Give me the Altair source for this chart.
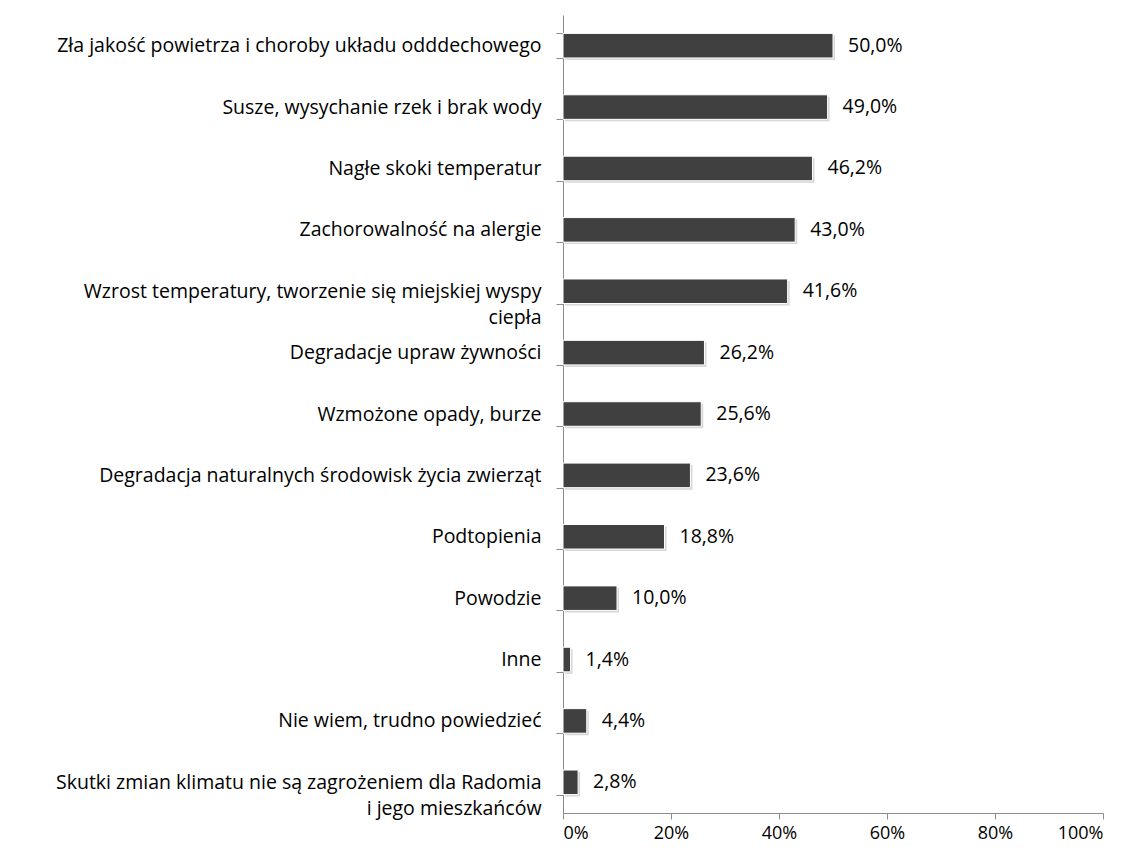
import altair as alt
import pandas as pd

categories = [
    "Zła jakość powietrza i choroby  układu odddechowego",
    "Susze, wysychanie rzek i brak wody",
    "Nagłe skoki temperatur",
    "Zachorowalność na alergie",
    "Wzrost temperatury, tworzenie się miejskiej wyspy|ciepła",
    "Degradacje upraw  żywności",
    "Wzmożone opady, burze",
    "Degradacja naturalnych środowisk życia zwierząt",
    "Podtopienia",
    "Powodzie",
    "Inne",
    "Nie wiem, trudno powiedzieć",
    "Skutki zmian klimatu nie są zagrożeniem  dla Radomia|i jego mieszkańców",
]
values = [50.0, 49.0, 46.2, 43.0, 41.6, 26.2, 25.6, 23.6, 18.8, 10.0, 1.4, 4.4, 2.8]
tick_values = [0, 20, 40, 60, 80, 100]

df = pd.DataFrame({
    "cat": categories,
    "val": values,
    "lab": [f"{v:.1f}".replace(".", ",") + "%" for v in values],
})

FONT = "Open Sans"

y = alt.Y(
    "cat:N", sort=None, title=None,
    scale=alt.Scale(paddingInner=0.6, paddingOuter=0.3),
    axis=alt.Axis(
        domainColor="#8c8c8c", tickColor="#8c8c8c", tickSize=7, tickBand="extent",
        labelPadding=15, labelFont=FONT, labelFontSize=19.5, labelColor="#000",
        labelLimit=0, labelExpr="split(datum.label, '|')", labelLineHeight=26,
    ),
)
x = alt.X(
    "val:Q", title=None,
    scale=alt.Scale(domain=[0, 100]),
    axis=alt.Axis(
        values=tick_values, labelExpr="datum.value + '%'", grid=False,
        domainColor="#8c8c8c", tickColor="#8c8c8c", tickSize=6,
        labelPadding=5, labelFont=FONT, labelFontSize=18, labelColor="#000",
    ),
)

base = alt.Chart(df)
shadow = base.mark_bar(color="#bdbdbd", opacity=0.6, xOffset=2, yOffset=2).encode(x=x, y=y)
bars = base.mark_bar(color="#404040", stroke="white", strokeWidth=1).encode(x=x, y=y)
text = base.mark_text(align="left", baseline="middle", dx=15, font=FONT, fontSize=19.5, color="#000").encode(
    x=x, y=y, text="lab:N"
)

chart = (shadow + bars + text).properties(
    width=540, height=798,
    autosize=alt.AutoSizeParams(type="none"),
    padding={"left": 555, "top": 7, "right": 20, "bottom": 31},
).configure_view(stroke=None)

chart.save("out.html", embed_options={"renderer": "svg", "actions": False})
